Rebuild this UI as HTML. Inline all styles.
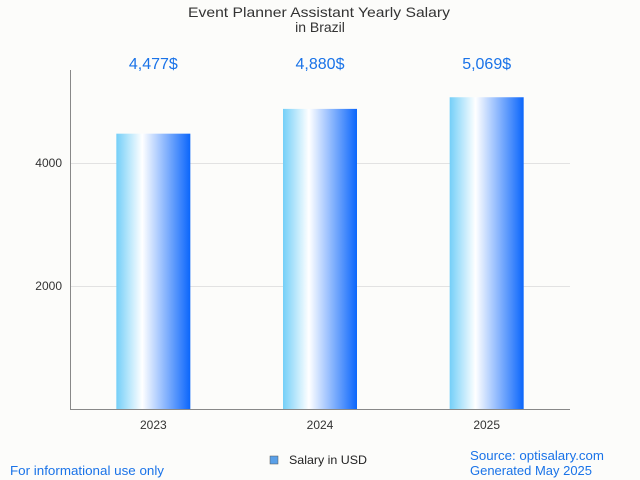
<!DOCTYPE html>
<html><head><meta charset="utf-8"><style>
body{margin:0;background:#fcfcfa;}
svg{display:block;font-family:"Liberation Sans",sans-serif;}
</style></head><body>
<svg width="640" height="480" viewBox="0 0 640 480">
<defs>
<linearGradient id="bg" x1="0" x2="1" y1="0" y2="0">
<stop offset="0" stop-color="#74cff8"/>
<stop offset="0.35" stop-color="#ffffff"/>
<stop offset="1" stop-color="#0b66fb"/>
</linearGradient>
</defs>
<rect width="640" height="480" fill="#fcfcfa"/>
<text x="188" y="17" textLength="262" lengthAdjust="spacingAndGlyphs" font-size="14" fill="#333">Event Planner Assistant Yearly Salary</text>
<text x="320" y="32" text-anchor="middle" font-size="14" fill="#333">in Brazil</text>
<g id="grid"></g>
<g id="bars"></g>
<line x1="70.5" y1="70" x2="70.5" y2="410" stroke="#888"/>
<line x1="70" y1="409.5" x2="570" y2="409.5" stroke="#888"/>
<rect x="270" y="456" width="8" height="8" fill="#5aa0e8" stroke="#555" stroke-width="0.5"/>
<text x="289" y="464" textLength="78" lengthAdjust="spacingAndGlyphs" font-size="12" fill="#222">Salary in USD</text>
<text x="10" y="475" textLength="154" lengthAdjust="spacingAndGlyphs" font-size="13" fill="#1a73e8">For informational use only</text>
<text x="470" y="460" textLength="134" lengthAdjust="spacingAndGlyphs" font-size="13" fill="#1a73e8">Source: optisalary.com</text>
<text x="470" y="475" textLength="122" lengthAdjust="spacingAndGlyphs" font-size="13" fill="#1a73e8">Generated May 2025</text>
</svg>
<script>
const categories = ["2023","2024","2025"];
const values = [4477,4880,5069];
const valueLabels = ["4,477$","4,880$","5,069$"];
const yTicks = [2000,4000];
const yTickLabels = ["2000","4000"];
const NS="http://www.w3.org/2000/svg";
const x0=70,x1=570,yBase=409,pxPer=123/2000;
const y=v=>yBase-v*pxPer;
const band=(x1-x0)/categories.length;
const xc=i=>x0+band*(i+0.5);
const grid=document.getElementById('grid'), bars=document.getElementById('bars');
function mk(t,a,p){const e=document.createElementNS(NS,t);for(const k in a)e.setAttribute(k,a[k]);p.appendChild(e);return e;}
yTicks.forEach((t,i)=>{
  const l=mk('line',{x1:x0,x2:x1,y1:y(t)+0.5,y2:y(t)+0.5,stroke:'#e2e2e2'},grid);
  
  
  const tx=mk('text',{x:x0-8,y:y(t)+4,'text-anchor':'end','font-size':12,fill:'#333'},grid);
  tx.textContent=yTickLabels[i];
  
  
});
categories.forEach((c,i)=>{
  const w=74;
  const r=mk('rect',{x:xc(i)-w/2,y:y(values[i]),width:w,height:yBase-y(values[i]),fill:'url(#bg)'},bars);
  
  
  const v=mk('text',{x:xc(i),y:69,'text-anchor':'middle','font-size':16,fill:'#1a73e8'},bars);
  v.textContent=valueLabels[i];
  
  
  const xl=mk('text',{x:xc(i),y:429,'text-anchor':'middle','font-size':12,fill:'#333'},bars);
  xl.textContent=c;
  
  
});
</script>
</body></html>
